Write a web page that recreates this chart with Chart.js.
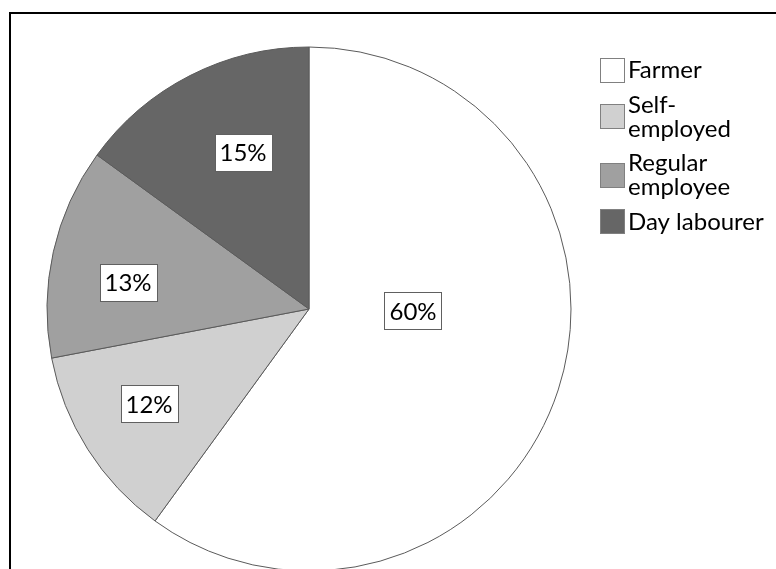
<!DOCTYPE html>
<html><head><meta charset="utf-8">
<script src="https://cdn.jsdelivr.net/npm/chart.js@4/dist/chart.umd.min.js"></script>
<style>
html,body{margin:0;padding:0;background:#fff;overflow:hidden;width:776px;height:569px;}
#frame{position:absolute;left:9px;top:12px;width:780px;height:620px;border-top:2px solid #000;border-left:2px solid #000;}
#wrap{position:absolute;left:0;top:0;width:776px;height:600px;}
</style></head><body>
<div id="frame"></div>
<div id="wrap"><canvas id="c" width="776" height="600"></canvas></div>
<script>
const categories = ['Farmer', 'Self-employed', 'Regular employee', 'Day labourer'];
const legendLines = [['Farmer'], ['Self-', 'employed'], ['Regular', 'employee'], ['Day labourer']];
const shares = [60, 12, 13, 15];
const sliceColors = ['#ffffff', '#d0d0d0', '#a0a0a0', '#666666'];

const FONT = '24px Lato';

const boxLabels = {
  id: 'boxLabels',
  afterDatasetsDraw(chart, args, opts) {
    const ctx = chart.ctx;
    const meta = chart.getDatasetMeta(0);
    const data = chart.data.datasets[0].data;
    ctx.save();
    ctx.font = opts.font;
    ctx.textAlign = 'center';
    ctx.textBaseline = 'middle';
    meta.data.forEach((arc, i) => {
      const p = arc.getProps(['x', 'y', 'startAngle', 'endAngle', 'outerRadius'], true);
      const mid = (p.startAngle + p.endAngle) / 2 + opts.angleShift[i] * Math.PI / 180;
      const r = p.outerRadius * opts.radiusFrac[i];
      const x = p.x + Math.cos(mid) * r;
      const y = p.y + Math.sin(mid) * r;
      const text = data[i] + '%';
      const w = Math.round(ctx.measureText(text).width + 2 * opts.padX);
      const h = opts.boxH;
      const bx = Math.round(x - w / 2) + 0.5, by = Math.round(y - h / 2) + 0.5;
      ctx.fillStyle = '#ffffff';
      ctx.fillRect(bx, by, w, h);
      ctx.strokeStyle = '#606060';
      ctx.lineWidth = 1;
      ctx.strokeRect(bx, by, w, h);
      ctx.fillStyle = '#000000';
      ctx.fillText(text, x, y + 1);
    });
    ctx.restore();
  }
};

const sideLegend = {
  id: 'sideLegend',
  afterDraw(chart, args, opts) {
    const ctx = chart.ctx;
    const colors = chart.data.datasets[0].backgroundColor;
    ctx.save();
    ctx.font = opts.font;
    ctx.textAlign = 'left';
    ctx.textBaseline = 'middle';
    let top = opts.top;
    opts.lines.forEach((lines, i) => {
      const blockH = lines.length * opts.lineH;
      const cy = top + blockH / 2;
      const sx = opts.x + 0.5, sy = Math.round(cy - opts.box / 2) + 0.5;
      ctx.fillStyle = colors[i];
      ctx.fillRect(sx, sy, opts.box, opts.box);
      ctx.strokeStyle = '#808080';
      ctx.lineWidth = 1;
      ctx.strokeRect(sx, sy, opts.box, opts.box);
      ctx.fillStyle = '#000000';
      lines.forEach((t, j) => {
        ctx.fillText(t, opts.x + opts.box + 4, top + opts.lineH * (j + 0.5) + 1);
      });
      top += blockH + opts.gap;
    });
    ctx.restore();
  }
};

new Chart(document.getElementById('c'), {
  type: 'pie',
  data: {
    labels: categories,
    datasets: [{
      data: shares,
      backgroundColor: sliceColors,
      borderColor: '#5a5a5a',
      borderWidth: 1
    }]
  },
  options: {
    responsive: false,
    animation: false,
    devicePixelRatio: 1,
    radius: 262,
    layout: { padding: { left: 47, top: 47, right: 205, bottom: 29 } },
    plugins: {
      legend: { display: false },
      tooltip: { enabled: false },
      boxLabels: {
        font: FONT,
        padX: 5,
        boxH: 37,
        radiusFrac: [0.397, 0.71, 0.698, 0.65],
        angleShift: [-16.9, 1.7, -4.3, 4.2]
      },
      sideLegend: {
        font: FONT,
        lines: legendLines,
        x: 600,
        top: 57.5,
        lineH: 24,
        gap: 10.5,
        box: 24
      }
    }
  },
  plugins: [boxLabels, sideLegend]
});
</script>
</body></html>
